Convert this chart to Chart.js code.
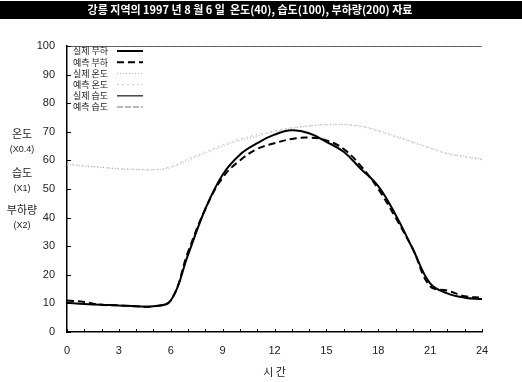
<!DOCTYPE html>
<html>
<head>
<meta charset="utf-8">
<script src="https://cdn.jsdelivr.net/npm/chart.js@4"></script>
<style>
  html, body { margin: 0; padding: 0; background: #fff; }
  #wrap { width: 522px; height: 382px; position: relative; }
</style>
</head>
<body>
<div id="wrap"><canvas id="loadChart" width="522" height="382"></canvas></div>
<script>
// 시간 (hour)
const hours = [0,1,2,3,4,5,6,7,8,9,10,11,12,13,14,15,16,17,18,19,20,21,22,23,24];

// 부하 (x2), 온도 (x0.4), 습도 (x1)
const actualLoad = [10.2,9.8,9.5,9.3,9.0,9.0,11,27,43,55,62,66,69,70.5,69.5,66.5,63,57,51,41,29,17,13.5,12,11.5];
const predictLoad = [11,10.5,9.5,9.3,9.0,9.0,11,28,43,54,60,64,66,67.5,68,67,64,58,50,40,29,16,14.5,12.5,12];
const actualTemp = [58.5,58,57.5,57,56.8,56.6,57.5,60,62.5,65,67,68.5,70,71.2,72,72.4,72.5,72,70.5,68.5,66.5,64.5,62.5,61.5,60.5];
const predictTemp = [58.8,58.2,57.6,57.2,56.9,56.8,57.8,60.5,63,65.5,67.5,69,70.3,71.5,72.2,72.6,72.6,71.8,70.2,68.2,66.2,64.2,62.3,61.2,60.2];
const actualHumid = [100,100,100,100,100,100,100,100,100,100,100,100,100,100,100,100,100,100,100,100,100,100,100,100,100];
const predictHumid = [100,100,100,100,100,100,100,100,100,100,100,100,100,100,100,100,100,100,100,100,100,100,100,100,100];

const seriesNames = ["실제 부하", "예측 부하", "실제 온도", "예측 온도", "실제 습도", "예측 습도"];
const xTicks = [0,3,6,9,12,15,18,21,24];

const titleText = "강릉 지역의 1997 년 8 월 6 일  온도(40), 습도(100), 부하량(200) 자료";
const sideLabels = ["온도", "(X0.4)", "습도", "(X1)", "부하량", "(X2)"];

function pts(arr) {
  return hours.map((h, i) => ({ x: h, y: arr[i] }));
}

// 제목 배경 + 왼쪽 축 설명 + 안쪽 눈금 + 범례
const decoPlugin = {
  id: "deco",
  beforeDraw(chart) {
    const ctx = chart.ctx;
    ctx.save();
    ctx.fillStyle = "#000";
    ctx.fillRect(0, 1, chart.width, 18);
    ctx.restore();
  },
  afterDraw(chart) {
    const ctx = chart.ctx;
    const xs = chart.scales.x;
    const ys = chart.scales.y;
    ctx.save();

    // title
    ctx.fillStyle = "#fff";
    ctx.font = "bold 11px 'Noto Sans CJK KR'";
    ctx.textAlign = "center";
    ctx.textBaseline = "middle";
    ctx.fillText(titleText, 250, 10);

    // inward ticks
    ctx.strokeStyle = "#000";
    ctx.lineWidth = 1;
    ctx.beginPath();
    hours.forEach(h => {
      const px = Math.round(xs.getPixelForValue(h)) + 0.5;
      ctx.moveTo(px, ys.bottom);
      ctx.lineTo(px, ys.bottom - 3);
    });
    for (let v = 0; v <= 100; v += 10) {
      const py = Math.round(ys.getPixelForValue(v)) + 0.5;
      ctx.moveTo(xs.left, py);
      ctx.lineTo(xs.left + 4, py);
    }
    ctx.stroke();

    // side labels
    ctx.fillStyle = "#222";
    ctx.textAlign = "center";
    const sideY = [134, 150, 173, 189, 210, 226];
    sideLabels.forEach((t, i) => {
      ctx.font = (i % 2 === 0) ? "11px 'Noto Sans CJK KR'" : "9px 'Liberation Sans Narrow', 'Liberation Sans'";
      ctx.fillText(t, 22, sideY[i]);
    });

    // legend
    const lx = chart.chartArea.left + 6;
    chart.data.datasets.forEach((ds, i) => {
      const y = 51 + i * 11.2;
      ctx.fillStyle = "#222";
      ctx.font = "9px 'Noto Sans CJK KR'";
      ctx.textAlign = "left";
      ctx.fillText(ds.label, lx, y);
      ctx.strokeStyle = ds.borderColor;
      ctx.lineWidth = ds.borderWidth;
      ctx.setLineDash(ds.borderDash || []);
      ctx.beginPath();
      ctx.moveTo(lx + 44, y);
      ctx.lineTo(lx + 70, y);
      ctx.stroke();
    });
    ctx.restore();
  }
};

const ctx = document.getElementById("loadChart").getContext("2d");

new Chart(ctx, {
  type: "line",
  data: {
    datasets: [
      { label: seriesNames[0], data: pts(actualLoad), borderColor: "#000", borderWidth: 2, tension: 0.4 },
      { label: seriesNames[1], data: pts(predictLoad), borderColor: "#000", borderWidth: 2, borderDash: [7, 4], tension: 0.4 },
      { label: seriesNames[2], data: pts(actualTemp), borderColor: "#b0b0b0", borderWidth: 1, borderDash: [1, 2], tension: 0.4 },
      { label: seriesNames[3], data: pts(predictTemp), borderColor: "#c8c8c8", borderWidth: 1, borderDash: [2, 3], tension: 0.4 },
      { label: seriesNames[4], data: pts(actualHumid), borderColor: "#444", borderWidth: 1.5, tension: 0 },
      { label: seriesNames[5], data: pts(predictHumid), borderColor: "#777", borderWidth: 1, borderDash: [6, 2], tension: 0 }
    ]
  },
  options: {
    responsive: false,
    animation: false,
    elements: { point: { radius: 0 } },
    layout: { padding: { top: 46, right: 40, bottom: 4, left: 0 } },
    plugins: {
      legend: { display: false },
      tooltip: { enabled: false },
      title: { display: false }
    },
    scales: {
      x: {
        type: "linear",
        min: 0,
        max: 24,
        afterBuildTicks: (scale) => { scale.ticks = xTicks.map(v => ({ value: v })); },
        ticks: { color: "#222", padding: 4, font: { size: 11, family: "'Liberation Sans Narrow', 'Liberation Sans'" } },
        grid: { display: false },
        border: { color: "#000", width: 1.5 },
        title: { display: true, text: "시 간", color: "#222", padding: { top: 6, bottom: 0 }, font: { size: 11, family: "'Noto Sans CJK KR'" } },
        afterFit: (scale) => { scale.height = 46; }
      },
      y: {
        min: 0,
        max: 100,
        ticks: { stepSize: 10, color: "#222", padding: 4, font: { size: 11, family: "'Liberation Sans Narrow', 'Liberation Sans'" } },
        grid: { display: false },
        border: { color: "#000", width: 1.5 },
        afterFit: (scale) => { scale.width = 67; }
      }
    }
  },
  plugins: [decoPlugin]
});
</script>
</body>
</html>
